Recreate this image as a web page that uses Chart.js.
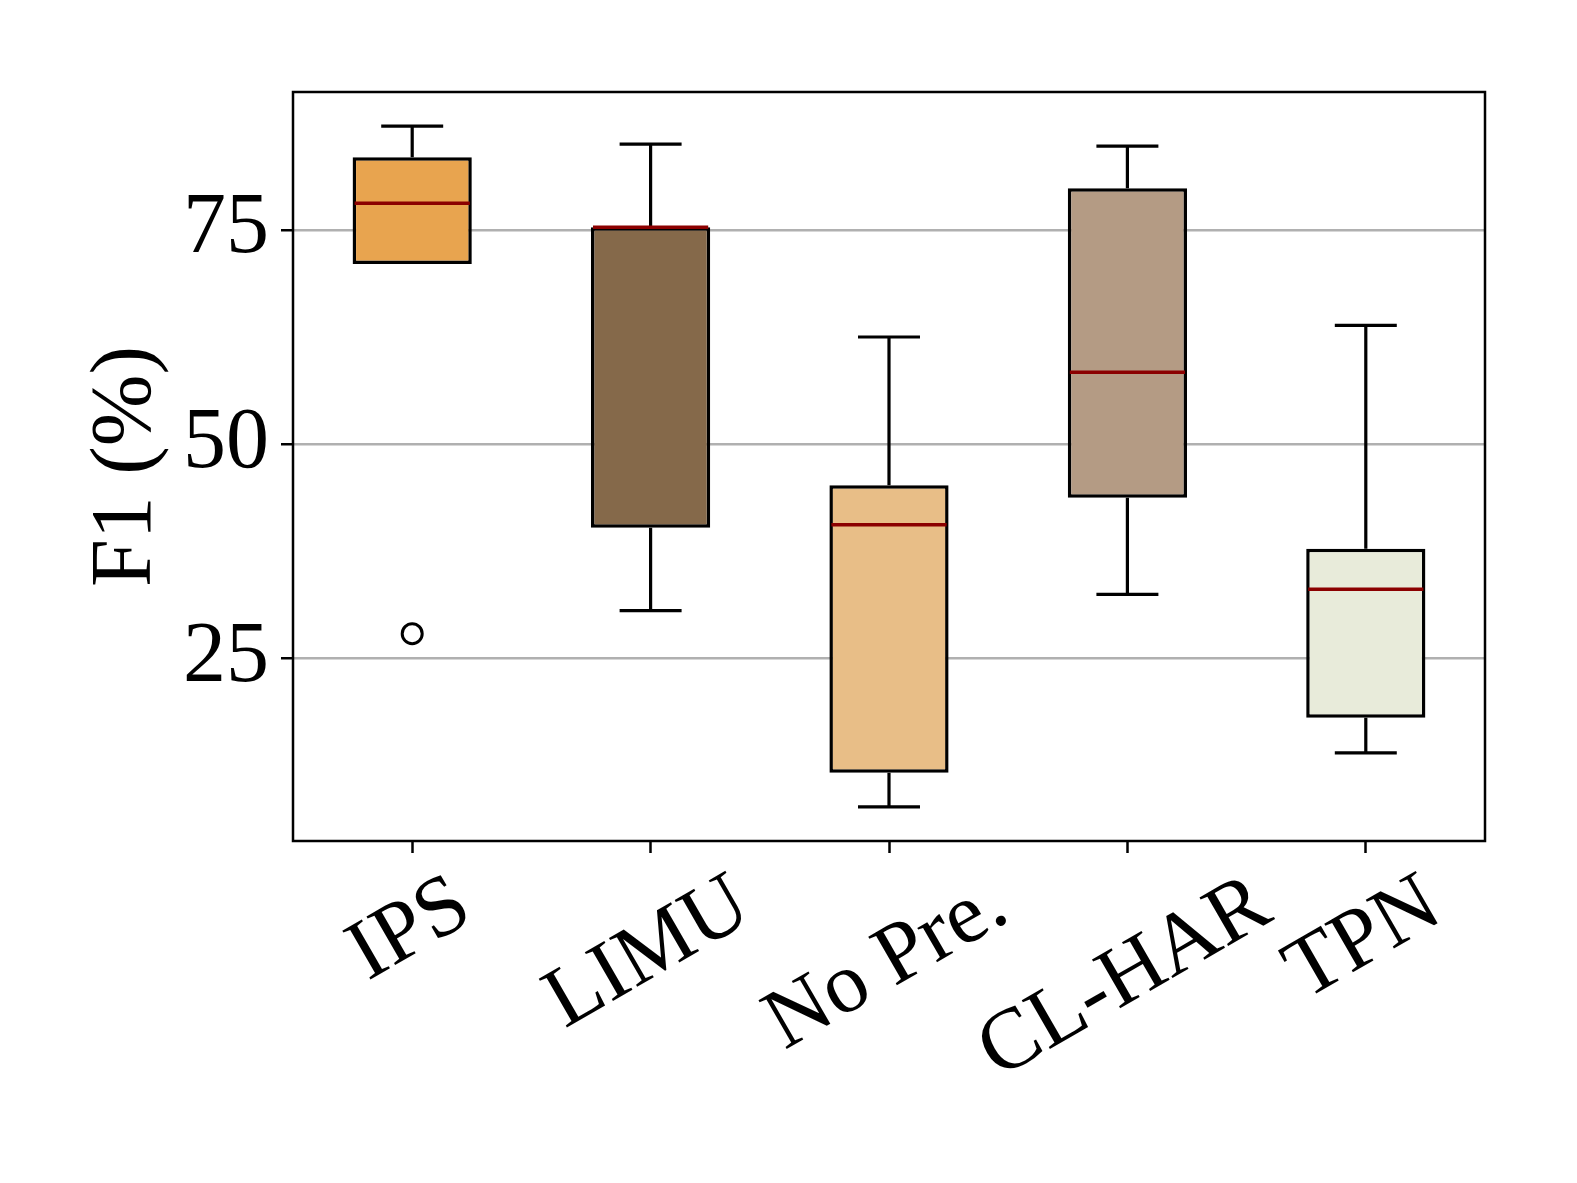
<!DOCTYPE html>
<html>
<head>
<meta charset="utf-8">
<title>F1 box plot</title>
<script src="https://cdn.jsdelivr.net/npm/chart.js@4.4.0/dist/chart.umd.min.js"></script>
<style>
    html, body { margin: 0; padding: 0; background: #fff; }
    canvas { display: block; }
</style>
</head>
<body>
<canvas id="f1-box-chart" width="1577" height="1183"></canvas>
<script>
// values
const categories = ['IPS', 'LIMU', 'No Pre.', 'CL-HAR', 'TPN'];
const whiskerLow = [71.0, 30.6, 7.7, 32.5, 14.0];
const quartile1 = [71.0, 40.25, 11.7, 43.75, 18.1];
const medians = [78.1, 75.3, 40.6, 58.4, 33.1];
const quartile3 = [83.45, 75.3, 45.2, 79.85, 37.8];
const whiskerHigh = [87.1, 85.0, 62.5, 84.75, 63.85];
const outlierLabels = ['IPS'];
const outlierValues = [27.9];
const boxColors = ['#E8A44F', '#85694A', '#E8BE87', '#B49B84', '#E8EBDA'];
const yTicks = [25, 50, 75];
const yMin = 3.73;
const yMax = 91.07;

const serif = '"Liberation Serif", "Times New Roman", serif';
const labelSize = 86;
const xLabelSize = 86;

// whiskers, caps and medians on top of the floating bars
const boxPartsPlugin = {
    id: 'boxParts',
    afterDatasetsDraw(chart) {
        const { ctx } = chart;
        const y = chart.scales.y;
        const bars = chart.getDatasetMeta(0).data;
        ctx.save();
        ctx.lineCap = 'butt';
        bars.forEach((bar, i) => {
            const hw = bar.width / 2;
            const cap = bar.width * 0.26;
            ctx.strokeStyle = '#000';
            ctx.lineWidth = 3.2;
            const pairs = [[quartile3[i], whiskerHigh[i]], [quartile1[i], whiskerLow[i]]];
            pairs.forEach(([from, to]) => {
                if (from === to) return;
                const y0 = y.getPixelForValue(from);
                const y1 = y.getPixelForValue(to);
                ctx.beginPath();
                ctx.moveTo(bar.x, y0);
                ctx.lineTo(bar.x, y1);
                ctx.moveTo(bar.x - cap, y1);
                ctx.lineTo(bar.x + cap, y1);
                ctx.stroke();
            });
            const ym = y.getPixelForValue(medians[i]);
            ctx.strokeStyle = '#8B0000';
            ctx.lineWidth = 3.5;
            ctx.beginPath();
            ctx.moveTo(bar.x - hw + 2, ym);
            ctx.lineTo(bar.x + hw - 2, ym);
            ctx.stroke();
        });
        ctx.restore();
    },
};

// frame and rotated, centred category labels
const frameLabelsPlugin = {
    id: 'frameLabels',
    afterDraw(chart) {
        const { ctx, chartArea } = chart;
        const xs = chart.scales.x;
        ctx.save();
        ctx.strokeStyle = '#000';
        ctx.lineWidth = 2.5;
        ctx.strokeRect(chartArea.left, chartArea.top, chartArea.right - chartArea.left, chartArea.bottom - chartArea.top);

        const a = Math.PI / 6;
        ctx.font = xLabelSize + 'px ' + serif;
        ctx.fillStyle = '#000';
        ctx.textAlign = 'center';
        ctx.textBaseline = 'middle';
        categories.forEach((label, i) => {
            const w = ctx.measureText(label).width;
            const bh = w * Math.sin(a) + xLabelSize * Math.cos(a);
            const cx = xs.getPixelForTick(i) - 2;
            const cy = chartArea.bottom + 12 + 9 + bh / 2;
            ctx.save();
            ctx.translate(cx, cy);
            ctx.rotate(-a);
            ctx.fillText(label, 0, 0);
            ctx.restore();
        });
        ctx.restore();
    },
};

const ctx = document.getElementById('f1-box-chart').getContext('2d');
const chart = new Chart(ctx, {
    type: 'bar',
    data: {
        labels: categories,
        datasets: [
            {
                label: 'IQR',
                data: categories.map((c, i) => [quartile1[i], quartile3[i]]),
                backgroundColor: boxColors,
                borderColor: '#000',
                borderWidth: 3.5,
                borderSkipped: false,
                barPercentage: 0.5,
                categoryPercentage: 1.0,
            },
            {
                label: 'Outliers',
                type: 'scatter',
                data: outlierLabels.map((c, i) => ({ x: c, y: outlierValues[i] })),
                pointStyle: 'circle',
                pointRadius: 10,
                backgroundColor: 'rgba(255,255,255,0)',
                borderColor: '#000',
                borderWidth: 3,
            },
        ],
    },
    options: {
        responsive: false,
        devicePixelRatio: 1,
        animation: false,
        layout: { padding: { top: 92, right: 92, left: 0, bottom: 0 } },
        plugins: {
            legend: { display: false },
            tooltip: { enabled: false },
        },
        scales: {
            x: {
                offset: true,
                border: { display: false },
                grid: {
                    display: true,
                    offset: false,
                    drawOnChartArea: false,
                    drawTicks: true,
                    tickLength: 12,
                    tickColor: '#000',
                    tickWidth: 2.5,
                },
                ticks: { display: false },
                afterFit(scale) {
                    scale.height = 1183 - 841;
                },
            },
            y: {
                min: yMin,
                max: yMax,
                beginAtZero: false,
                border: { display: false },
                grid: {
                    color: '#b0b0b0',
                    lineWidth: 2.5,
                    tickLength: 12,
                    tickColor: '#000',
                    tickWidth: 2.5,
                },
                ticks: {
                    color: '#000',
                    padding: 12,
                    font: { family: serif, size: labelSize },
                },
                afterBuildTicks(scale) {
                    scale.ticks = yTicks.map(v => ({ value: v }));
                },
                title: {
                    display: true,
                    text: 'F1 (%)',
                    color: '#000',
                    font: { family: serif, size: labelSize },
                    padding: { top: 76, bottom: 0 },
                },
                afterFit(scale) {
                    scale.width = 293;
                },
            },
        },
    },
    plugins: [boxPartsPlugin, frameLabelsPlugin],
});
</script>
</body>
</html>
